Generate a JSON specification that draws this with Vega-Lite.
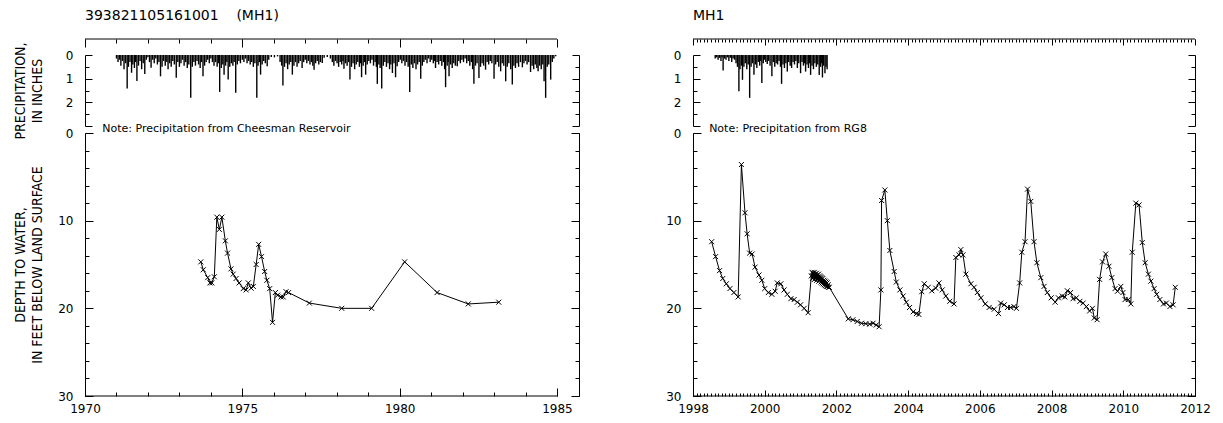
{
"$schema": "https://vega.github.io/schema/vega-lite/v6.json",
"background": "white",
"padding": {"left": 12, "top": 8, "right": 5, "bottom": 4},
"config": {
  "view": {"stroke": null},
  "axis": {"grid": false, "domainColor": "black", "tickColor": "black", "labelColor": "black", "titleColor": "black", "labelFont": "DejaVu Sans", "labelFontSize": 12, "titleFont": "Liberation Sans Narrow, DejaVu Sans Condensed, Liberation Sans", "titleFontSize": 14, "titleFontWeight": "normal", "domainWidth": 1, "tickWidth": 1, "labelFlush": false},
  "title": {"font": "DejaVu Sans", "fontSize": 14, "fontWeight": "normal", "color": "black", "anchor": "start", "frame": "group", "offset": 16}
},
"datasets": {
  "precipL": [
{"t":1971.00,"p":0.15},{"t":1971.05,"p":0.3},{"t":1971.10,"p":0.2},{"t":1971.14,"p":0.45},{"t":1971.19,"p":0.25},{"t":1971.24,"p":0.6},{"t":1971.29,"p":0.35},{"t":1971.34,"p":1.42},{"t":1971.38,"p":0.5},{"t":1971.43,"p":0.3},{"t":1971.48,"p":0.75},{"t":1971.52,"p":0.4},{"t":1971.57,"p":0.55},{"t":1971.61,"p":0.3},{"t":1971.65,"p":1.1},{"t":1971.70,"p":0.45},{"t":1971.75,"p":0.25},{"t":1971.80,"p":0.6},{"t":1971.85,"p":0.35},{"t":1971.90,"p":0.8},{"t":1971.95,"p":0.2},{"t":1972.00,"p":0.1},{"t":1972.05,"p":0.3},{"t":1972.10,"p":0.54},{"t":1972.15,"p":0.2},{"t":1972.20,"p":0.35},{"t":1972.25,"p":0.15},{"t":1972.30,"p":0.4},{"t":1972.35,"p":0.3},{"t":1972.40,"p":0.9},{"t":1972.45,"p":0.5},{"t":1972.50,"p":0.25},{"t":1972.55,"p":0.45},{"t":1972.60,"p":0.3},{"t":1972.64,"p":0.6},{"t":1972.69,"p":0.35},{"t":1972.74,"p":0.5},{"t":1972.79,"p":0.25},{"t":1972.84,"p":0.4},{"t":1972.90,"p":0.96},{"t":1972.95,"p":0.3},{"t":1973.00,"p":0.5},{"t":1973.05,"p":0.35},{"t":1973.10,"p":0.2},{"t":1973.15,"p":0.45},{"t":1973.20,"p":0.3},{"t":1973.25,"p":0.55},{"t":1973.30,"p":0.4},{"t":1973.36,"p":1.81},{"t":1973.41,"p":0.5},{"t":1973.46,"p":0.3},{"t":1973.51,"p":0.45},{"t":1973.56,"p":0.25},{"t":1973.61,"p":0.4},{"t":1973.66,"p":0.55},{"t":1973.70,"p":0.3},{"t":1973.75,"p":0.9},{"t":1973.80,"p":0.45},{"t":1973.85,"p":0.3},{"t":1973.90,"p":0.2},{"t":1973.95,"p":0.35},{"t":1974.00,"p":0.15},{"t":1974.05,"p":0.3},{"t":1974.10,"p":0.45},{"t":1974.15,"p":0.3},{"t":1974.20,"p":0.5},{"t":1974.24,"p":0.35},{"t":1974.28,"p":1.56},{"t":1974.33,"p":0.55},{"t":1974.38,"p":0.4},{"t":1974.42,"p":0.83},{"t":1974.47,"p":0.45},{"t":1974.51,"p":0.3},{"t":1974.55,"p":1.04},{"t":1974.60,"p":0.5},{"t":1974.65,"p":0.35},{"t":1974.70,"p":0.45},{"t":1974.74,"p":0.3},{"t":1974.79,"p":1.6},{"t":1974.84,"p":0.4},{"t":1974.89,"p":0.25},{"t":1974.94,"p":0.35},{"t":1975.00,"p":0.2},{"t":1975.05,"p":0.3},{"t":1975.10,"p":0.15},{"t":1975.15,"p":0.35},{"t":1975.20,"p":0.25},{"t":1975.25,"p":0.4},{"t":1975.30,"p":0.3},{"t":1975.35,"p":0.5},{"t":1975.40,"p":0.35},{"t":1975.46,"p":1.81},{"t":1975.50,"p":0.45},{"t":1975.54,"p":0.3},{"t":1975.58,"p":0.83},{"t":1975.63,"p":0.4},{"t":1975.68,"p":0.25},{"t":1975.73,"p":0.35},{"t":1975.79,"p":0.48},{"t":1975.84,"p":0.2},{"t":1975.92,"p":0.08},{"t":1976.02,"p":0.1},{"t":1976.12,"p":0.06},{"t":1976.20,"p":0.3},{"t":1976.25,"p":0.45},{"t":1976.29,"p":1.29},{"t":1976.34,"p":0.5},{"t":1976.39,"p":0.35},{"t":1976.44,"p":0.6},{"t":1976.49,"p":0.4},{"t":1976.54,"p":0.3},{"t":1976.59,"p":0.83},{"t":1976.64,"p":0.45},{"t":1976.69,"p":0.3},{"t":1976.74,"p":0.5},{"t":1976.79,"p":0.35},{"t":1976.84,"p":0.25},{"t":1976.90,"p":0.55},{"t":1976.95,"p":0.3},{"t":1977.00,"p":0.2},{"t":1977.05,"p":0.35},{"t":1977.10,"p":0.25},{"t":1977.15,"p":0.4},{"t":1977.20,"p":0.3},{"t":1977.24,"p":0.45},{"t":1977.28,"p":0.62},{"t":1977.33,"p":0.35},{"t":1977.38,"p":0.25},{"t":1977.43,"p":0.4},{"t":1977.48,"p":0.3},{"t":1977.54,"p":0.34},{"t":1977.60,"p":0.12},{"t":1977.70,"p":0.08},{"t":1977.80,"p":0.15},{"t":1977.86,"p":0.3},{"t":1977.91,"p":0.45},{"t":1977.96,"p":0.25},{"t":1978.01,"p":0.35},{"t":1978.06,"p":0.5},{"t":1978.11,"p":0.3},{"t":1978.16,"p":0.4},{"t":1978.20,"p":0.25},{"t":1978.23,"p":0.58},{"t":1978.28,"p":0.35},{"t":1978.33,"p":0.45},{"t":1978.38,"p":0.3},{"t":1978.42,"p":1.04},{"t":1978.47,"p":0.5},{"t":1978.52,"p":0.35},{"t":1978.57,"p":0.6},{"t":1978.62,"p":0.4},{"t":1978.67,"p":0.3},{"t":1978.72,"p":0.5},{"t":1978.76,"p":0.35},{"t":1978.79,"p":0.94},{"t":1978.84,"p":0.45},{"t":1978.88,"p":0.3},{"t":1978.92,"p":0.83},{"t":1978.97,"p":0.4},{"t":1979.02,"p":0.25},{"t":1979.07,"p":0.35},{"t":1979.12,"p":0.2},{"t":1979.17,"p":0.45},{"t":1979.22,"p":0.3},{"t":1979.26,"p":0.5},{"t":1979.29,"p":1.22},{"t":1979.34,"p":0.4},{"t":1979.38,"p":0.55},{"t":1979.43,"p":1.42},{"t":1979.48,"p":0.45},{"t":1979.53,"p":0.3},{"t":1979.58,"p":0.5},{"t":1979.63,"p":0.35},{"t":1979.68,"p":0.6},{"t":1979.72,"p":0.4},{"t":1979.77,"p":0.76},{"t":1979.82,"p":0.35},{"t":1979.87,"p":0.94},{"t":1979.92,"p":0.48},{"t":1979.97,"p":0.3},{"t":1980.02,"p":0.2},{"t":1980.07,"p":0.35},{"t":1980.12,"p":0.25},{"t":1980.17,"p":0.45},{"t":1980.22,"p":0.3},{"t":1980.27,"p":0.5},{"t":1980.32,"p":1.56},{"t":1980.37,"p":0.4},{"t":1980.42,"p":0.55},{"t":1980.47,"p":0.35},{"t":1980.52,"p":0.6},{"t":1980.57,"p":0.4},{"t":1980.62,"p":0.3},{"t":1980.67,"p":1.0},{"t":1980.72,"p":0.45},{"t":1980.77,"p":0.3},{"t":1980.82,"p":0.2},{"t":1980.87,"p":0.35},{"t":1980.92,"p":0.15},{"t":1980.97,"p":0.3},{"t":1981.02,"p":0.2},{"t":1981.07,"p":0.35},{"t":1981.10,"p":0.25},{"t":1981.14,"p":0.55},{"t":1981.19,"p":0.3},{"t":1981.24,"p":0.4},{"t":1981.29,"p":0.25},{"t":1981.34,"p":0.45},{"t":1981.39,"p":0.3},{"t":1981.43,"p":0.6},{"t":1981.46,"p":1.36},{"t":1981.51,"p":0.45},{"t":1981.54,"p":0.3},{"t":1981.57,"p":0.9},{"t":1981.62,"p":0.4},{"t":1981.67,"p":0.55},{"t":1981.72,"p":0.35},{"t":1981.77,"p":0.45},{"t":1981.83,"p":0.48},{"t":1981.88,"p":0.25},{"t":1981.93,"p":0.35},{"t":1981.98,"p":0.2},{"t":1982.03,"p":0.3},{"t":1982.08,"p":0.15},{"t":1982.13,"p":0.35},{"t":1982.18,"p":0.25},{"t":1982.23,"p":0.45},{"t":1982.28,"p":0.3},{"t":1982.32,"p":0.6},{"t":1982.36,"p":1.22},{"t":1982.41,"p":0.45},{"t":1982.46,"p":0.35},{"t":1982.52,"p":0.97},{"t":1982.57,"p":0.5},{"t":1982.62,"p":0.35},{"t":1982.67,"p":0.45},{"t":1982.73,"p":0.62},{"t":1982.78,"p":0.3},{"t":1982.83,"p":0.4},{"t":1982.88,"p":0.25},{"t":1982.93,"p":0.35},{"t":1983.00,"p":1.0},{"t":1983.05,"p":0.4},{"t":1983.10,"p":0.3},{"t":1983.15,"p":0.5},{"t":1983.21,"p":0.69},{"t":1983.26,"p":0.35},{"t":1983.31,"p":0.45},{"t":1983.37,"p":1.11},{"t":1983.42,"p":0.5},{"t":1983.47,"p":0.35},{"t":1983.53,"p":0.6},{"t":1983.58,"p":1.25},{"t":1983.63,"p":0.45},{"t":1983.68,"p":0.55},{"t":1983.73,"p":0.35},{"t":1983.78,"p":0.5},{"t":1983.84,"p":0.3},{"t":1983.90,"p":0.52},{"t":1983.95,"p":0.35},{"t":1984.00,"p":0.25},{"t":1984.05,"p":0.4},{"t":1984.10,"p":0.3},{"t":1984.16,"p":0.72},{"t":1984.21,"p":0.45},{"t":1984.26,"p":0.6},{"t":1984.31,"p":0.4},{"t":1984.36,"p":0.55},{"t":1984.40,"p":0.69},{"t":1984.45,"p":0.45},{"t":1984.50,"p":0.6},{"t":1984.55,"p":0.4},{"t":1984.59,"p":1.11},{"t":1984.64,"p":1.81},{"t":1984.69,"p":0.5},{"t":1984.74,"p":0.4},{"t":1984.80,"p":1.04},{"t":1984.85,"p":0.3},{"t":1984.90,"p":0.15},{"t":1984.96,"p":0.05}
  ],
  "precipR": [
{"t":1998.62,"p":0.15},{"t":1998.66,"p":0.1},{"t":1998.70,"p":0.2},{"t":1998.74,"p":0.12},{"t":1998.78,"p":0.25},{"t":1998.81,"p":0.1},{"t":1998.84,"p":0.66},{"t":1998.88,"p":0.15},{"t":1998.92,"p":0.2},{"t":1998.96,"p":0.1},{"t":1999.00,"p":0.25},{"t":1999.04,"p":0.12},{"t":1999.08,"p":0.3},{"t":1999.12,"p":0.15},{"t":1999.16,"p":0.2},{"t":1999.20,"p":0.35},{"t":1999.24,"p":0.5},{"t":1999.28,"p":1.53},{"t":1999.31,"p":0.6},{"t":1999.35,"p":0.45},{"t":1999.38,"p":1.05},{"t":1999.42,"p":0.5},{"t":1999.46,"p":0.35},{"t":1999.50,"p":0.6},{"t":1999.54,"p":0.4},{"t":1999.58,"p":1.81},{"t":1999.62,"p":0.5},{"t":1999.66,"p":0.35},{"t":1999.70,"p":0.83},{"t":1999.74,"p":0.4},{"t":1999.78,"p":0.55},{"t":1999.82,"p":0.3},{"t":1999.86,"p":0.45},{"t":1999.89,"p":0.25},{"t":1999.92,"p":1.18},{"t":1999.96,"p":0.35},{"t":2000.00,"p":0.2},{"t":2000.03,"p":0.3},{"t":2000.07,"p":0.38},{"t":2000.11,"p":0.25},{"t":2000.15,"p":0.45},{"t":2000.20,"p":0.9},{"t":2000.24,"p":0.3},{"t":2000.28,"p":0.5},{"t":2000.32,"p":0.35},{"t":2000.36,"p":0.4},{"t":2000.40,"p":0.25},{"t":2000.44,"p":0.5},{"t":2000.47,"p":1.22},{"t":2000.51,"p":0.4},{"t":2000.55,"p":0.55},{"t":2000.59,"p":0.35},{"t":2000.63,"p":0.7},{"t":2000.67,"p":0.3},{"t":2000.71,"p":0.45},{"t":2000.75,"p":0.55},{"t":2000.79,"p":0.3},{"t":2000.83,"p":0.4},{"t":2000.87,"p":0.25},{"t":2000.91,"p":0.55},{"t":2000.95,"p":0.35},{"t":2001.00,"p":0.77},{"t":2001.04,"p":0.3},{"t":2001.08,"p":0.45},{"t":2001.11,"p":0.35},{"t":2001.14,"p":0.7},{"t":2001.18,"p":0.4},{"t":2001.22,"p":0.55},{"t":2001.25,"p":0.35},{"t":2001.28,"p":0.84},{"t":2001.32,"p":0.45},{"t":2001.36,"p":0.6},{"t":2001.40,"p":0.35},{"t":2001.44,"p":0.5},{"t":2001.48,"p":0.4},{"t":2001.52,"p":0.84},{"t":2001.56,"p":0.5},{"t":2001.59,"p":0.35},{"t":2001.61,"p":0.95},{"t":2001.64,"p":0.45},{"t":2001.68,"p":0.77},{"t":2001.71,"p":0.5},{"t":2001.74,"p":0.6}
  ],
  "depthL": [
{"t":1973.68,"d":14.7},{"t":1973.76,"d":15.6},{"t":1973.9,"d":16.5},{"t":1973.97,"d":17.1},{"t":1974.03,"d":17.1},{"t":1974.11,"d":16.4},{"t":1974.19,"d":9.6},{"t":1974.27,"d":11.0},{"t":1974.35,"d":9.6},{"t":1974.46,"d":12.3},{"t":1974.53,"d":13.7},{"t":1974.64,"d":15.5},{"t":1974.71,"d":16.1},{"t":1974.8,"d":16.6},{"t":1974.9,"d":17.1},{"t":1975.03,"d":17.75},{"t":1975.12,"d":17.9},{"t":1975.19,"d":17.1},{"t":1975.28,"d":17.7},{"t":1975.35,"d":17.5},{"t":1975.44,"d":15.0},{"t":1975.52,"d":12.7},{"t":1975.61,"d":14.1},{"t":1975.71,"d":15.8},{"t":1975.78,"d":16.8},{"t":1975.87,"d":17.75},{"t":1975.96,"d":21.6},{"t":1976.05,"d":18.2},{"t":1976.12,"d":18.5},{"t":1976.23,"d":18.7},{"t":1976.3,"d":18.7},{"t":1976.39,"d":18.1},{"t":1976.47,"d":18.2},{"t":1977.13,"d":19.4},{"t":1978.16,"d":20.0},{"t":1979.11,"d":20.0},{"t":1980.16,"d":14.7},{"t":1981.19,"d":18.2},{"t":1982.18,"d":19.5},{"t":1983.15,"d":19.3}
  ],
  "depthR": [
{"t":1998.52,"d":12.4},{"t":1998.63,"d":14.1},{"t":1998.74,"d":15.7},{"t":1998.83,"d":16.6},{"t":1998.93,"d":17.2},{"t":1999.03,"d":17.75},{"t":1999.14,"d":18.2},{"t":1999.26,"d":18.7},{"t":1999.35,"d":3.6},{"t":1999.45,"d":9.1},{"t":1999.51,"d":11.5},{"t":1999.58,"d":13.7},{"t":1999.65,"d":13.8},{"t":1999.73,"d":15.3},{"t":1999.84,"d":16.2},{"t":1999.92,"d":16.8},{"t":2000.0,"d":17.75},{"t":2000.1,"d":18.2},{"t":2000.2,"d":18.4},{"t":2000.29,"d":18.05},{"t":2000.35,"d":17.1},{"t":2000.45,"d":17.2},{"t":2000.54,"d":17.9},{"t":2000.63,"d":18.4},{"t":2000.73,"d":18.9},{"t":2000.82,"d":19.0},{"t":2000.91,"d":19.3},{"t":2001.0,"d":19.6},{"t":2001.1,"d":20.0},{"t":2001.21,"d":20.5},
{"t":2001.30,"d":16.3},{"t":2001.32,"d":15.9},{"t":2001.33,"d":16.6},{"t":2001.35,"d":16.0},{"t":2001.36,"d":16.4},{"t":2001.38,"d":15.9},{"t":2001.39,"d":16.7},{"t":2001.41,"d":16.1},{"t":2001.42,"d":16.5},{"t":2001.44,"d":16.0},{"t":2001.45,"d":16.8},{"t":2001.47,"d":16.2},{"t":2001.48,"d":16.6},{"t":2001.50,"d":16.1},{"t":2001.51,"d":16.9},{"t":2001.53,"d":16.3},{"t":2001.54,"d":16.7},{"t":2001.56,"d":16.4},{"t":2001.57,"d":17.0},{"t":2001.59,"d":16.5},{"t":2001.60,"d":17.1},{"t":2001.62,"d":16.6},{"t":2001.63,"d":17.2},{"t":2001.65,"d":16.8},{"t":2001.66,"d":17.3},{"t":2001.68,"d":16.9},{"t":2001.69,"d":17.4},{"t":2001.71,"d":17.0},{"t":2001.72,"d":17.5},{"t":2001.74,"d":17.1},{"t":2001.75,"d":17.5},{"t":2001.77,"d":17.3},{"t":2001.78,"d":17.6},{"t":2001.80,"d":17.6},
{"t":2002.33,"d":21.2},{"t":2002.46,"d":21.3},{"t":2002.58,"d":21.5},{"t":2002.7,"d":21.7},{"t":2002.82,"d":21.75},{"t":2002.93,"d":21.8},{"t":2003.02,"d":21.7},{"t":2003.11,"d":21.9},{"t":2003.19,"d":22.1},{"t":2003.24,"d":17.9},{"t":2003.26,"d":7.7},{"t":2003.35,"d":6.5},{"t":2003.42,"d":10.0},{"t":2003.49,"d":13.4},{"t":2003.61,"d":15.8},{"t":2003.67,"d":17.0},{"t":2003.77,"d":17.9},{"t":2003.86,"d":18.6},{"t":2003.95,"d":19.3},{"t":2004.04,"d":19.9},{"t":2004.14,"d":20.4},{"t":2004.23,"d":20.6},{"t":2004.3,"d":20.7},{"t":2004.38,"d":18.1},{"t":2004.45,"d":17.2},{"t":2004.56,"d":17.6},{"t":2004.66,"d":18.0},{"t":2004.77,"d":17.7},{"t":2004.86,"d":17.1},{"t":2004.95,"d":17.9},{"t":2005.05,"d":18.6},{"t":2005.16,"d":19.2},{"t":2005.28,"d":19.5},{"t":2005.33,"d":14.2},{"t":2005.42,"d":13.9},{"t":2005.47,"d":13.3},{"t":2005.53,"d":13.9},{"t":2005.61,"d":16.1},{"t":2005.75,"d":17.2},{"t":2005.84,"d":17.6},{"t":2005.93,"d":18.2},{"t":2006.03,"d":18.8},{"t":2006.15,"d":19.5},{"t":2006.26,"d":19.9},{"t":2006.4,"d":20.1},{"t":2006.52,"d":20.6},{"t":2006.58,"d":19.4},{"t":2006.68,"d":19.6},{"t":2006.77,"d":19.9},{"t":2006.86,"d":19.9},{"t":2006.95,"d":19.8},{"t":2007.02,"d":20.0},{"t":2007.11,"d":17.1},{"t":2007.17,"d":13.6},{"t":2007.26,"d":12.4},{"t":2007.33,"d":6.4},{"t":2007.42,"d":7.8},{"t":2007.51,"d":12.4},{"t":2007.59,"d":14.8},{"t":2007.7,"d":16.5},{"t":2007.79,"d":17.5},{"t":2007.88,"d":18.2},{"t":2007.99,"d":18.8},{"t":2008.1,"d":19.3},{"t":2008.19,"d":18.8},{"t":2008.3,"d":18.6},{"t":2008.37,"d":18.7},{"t":2008.44,"d":18.0},{"t":2008.53,"d":18.2},{"t":2008.6,"d":18.9},{"t":2008.69,"d":18.8},{"t":2008.79,"d":19.2},{"t":2008.88,"d":19.4},{"t":2008.97,"d":19.8},{"t":2009.06,"d":20.3},{"t":2009.14,"d":20.0},{"t":2009.19,"d":21.1},{"t":2009.27,"d":21.3},{"t":2009.34,"d":16.7},{"t":2009.42,"d":14.7},{"t":2009.51,"d":13.8},{"t":2009.6,"d":15.2},{"t":2009.68,"d":16.5},{"t":2009.77,"d":17.75},{"t":2009.84,"d":18.05},{"t":2009.93,"d":17.5},{"t":2009.99,"d":18.2},{"t":2010.05,"d":19.0},{"t":2010.14,"d":19.0},{"t":2010.21,"d":19.5},{"t":2010.25,"d":13.6},{"t":2010.35,"d":8.0},{"t":2010.44,"d":8.2},{"t":2010.53,"d":12.5},{"t":2010.61,"d":14.8},{"t":2010.7,"d":16.1},{"t":2010.77,"d":16.9},{"t":2010.86,"d":17.75},{"t":2010.93,"d":18.4},{"t":2011.02,"d":19.0},{"t":2011.12,"d":19.5},{"t":2011.2,"d":19.4},{"t":2011.3,"d":19.8},{"t":2011.39,"d":19.6},{"t":2011.45,"d":17.6}
  ]
},
"bounds": "flush",
"columns": 2,
"spacing": {"row": 7, "column": 114},
"concat": [
   {
    "width": 494, "height": 71,
    "title": {"text": "393821105161001\u00a0\u00a0\u00a0\u00a0(MH1)"},
    "resolve": {"axis": {"x": "independent", "y": "independent"}},
    "layer": [
     {"data": {"name": "precipL"}, "mark": {"type": "rule", "color": "black", "strokeWidth": 1.4},
      "encoding": {
       "x": {"field": "t", "type": "quantitative", "scale": {"domain": [1970, 1985.7], "nice": false, "zero": false}, "axis": {"orient": "top", "offset": 16, "values": [1970,1971,1972,1973,1974,1975,1976,1977,1978,1979,1980,1981,1982,1983,1984,1985], "tickSize": -4, "labels": false, "domain": false, "title": null}},
       "y": {"field": "p", "type": "quantitative", "scale": {"domain": [0, 3], "reverse": true, "nice": false, "zero": false}, "axis": {"orient": "left", "values": [0, 1, 2, 3], "tickSize": -7, "labelExpr": "datum.value < 3 ? datum.label : ''", "labelPadding": 19, "domain": true, "title": ["PRECIPITATION,", "IN INCHES"], "titleX": -58, "titleLineHeight": 17}},
       "y2": {"datum": 0}
      }},
     {"data": {"values": [{"t": 1970, "p": 0}]}, "mark": {"type": "point", "opacity": 0},
      "encoding": {
       "x": {"field": "t", "type": "quantitative", "scale": {"domain": [1970, 1985.7], "nice": false, "zero": false}, "axis": {"orient": "top", "offset": 16, "values": [1970, 1975, 1980, 1985], "tickSize": -8, "labels": false, "domain": false, "title": null}},
       "y": {"field": "p", "type": "quantitative", "axis": {"orient": "left", "values": [0.5, 1.5, 2.5], "tickSize": -4, "labels": false, "domain": false, "title": null}}
      }},
     {"data": {"values": [{"t": 1970, "t2": 1985, "p": -0.676}]}, "mark": {"type": "rule", "color": "black", "strokeWidth": 1},
      "encoding": {
       "x": {"field": "t", "type": "quantitative", "axis": null},
       "x2": {"field": "t2"},
       "y": {"field": "p", "type": "quantitative", "axis": {"orient": "right", "values": [0, 1, 2, 3], "tickSize": -7, "labels": false, "domain": true, "title": null}}
      }},
     {"data": {"values": [{"t": 1970, "p": 0}]}, "mark": {"type": "point", "opacity": 0},
      "encoding": {
       "x": {"field": "t", "type": "quantitative", "axis": null},
       "y": {"field": "p", "type": "quantitative", "axis": {"orient": "right", "values": [0.5, 1.5, 2.5], "tickSize": -4, "labels": false, "domain": false, "title": null}}
      }}
    ]
   },
   {
    "width": 502, "height": 71,
    "title": {"text": "MH1"},
    "resolve": {"axis": {"x": "independent", "y": "independent"}},
    "layer": [
     {"data": {"name": "precipR"}, "mark": {"type": "rule", "color": "black", "strokeWidth": 1.4},
      "encoding": {
       "x": {"field": "t", "type": "quantitative", "scale": {"domain": [1998, 2012], "nice": false, "zero": false}, "axis": {"orient": "top", "offset": 16, "tickCount": 140, "tickSize": -3, "labels": false, "domain": false, "title": null}},
       "y": {"field": "p", "type": "quantitative", "scale": {"domain": [0, 3], "reverse": true, "nice": false, "zero": false}, "axis": {"orient": "left", "values": [0, 1, 2, 3], "tickSize": -7, "labelExpr": "datum.value < 3 ? datum.label : ''", "labelPadding": 19, "domain": true, "title": null}},
       "y2": {"datum": 0}
      }},
     {"data": {"values": [{"t": 1998, "p": 0}]}, "mark": {"type": "point", "opacity": 0},
      "encoding": {
       "x": {"field": "t", "type": "quantitative", "scale": {"domain": [1998, 2012], "nice": false, "zero": false}, "axis": {"orient": "top", "offset": 16, "values": [1998, 2000, 2002, 2004, 2006, 2008, 2010, 2012], "tickSize": -6, "labels": false, "domain": false, "title": null}},
       "y": {"field": "p", "type": "quantitative", "axis": {"orient": "left", "values": [0.5, 1.5, 2.5], "tickSize": -4, "labels": false, "domain": false, "title": null}}
      }},
     {"data": {"values": [{"t": 1998, "t2": 2012, "p": -0.676}]}, "mark": {"type": "rule", "color": "black", "strokeWidth": 1},
      "encoding": {
       "x": {"field": "t", "type": "quantitative", "axis": null},
       "x2": {"field": "t2"},
       "y": {"field": "p", "type": "quantitative", "axis": {"orient": "right", "values": [0, 1, 2, 3], "tickSize": -7, "labels": false, "domain": true, "title": null}}
      }},
     {"data": {"values": [{"t": 1998, "p": 0}]}, "mark": {"type": "point", "opacity": 0},
      "encoding": {
       "x": {"field": "t", "type": "quantitative", "axis": null},
       "y": {"field": "p", "type": "quantitative", "axis": {"orient": "right", "values": [0.5, 1.5, 2.5], "tickSize": -4, "labels": false, "domain": false, "title": null}}
      }}
    ]
   },
   {
    "width": 494, "height": 263,
    "resolve": {"axis": {"x": "independent", "y": "independent"}},
    "layer": [
     {"data": {"name": "depthL"}, "mark": {"type": "line", "color": "black", "strokeWidth": 1},
      "encoding": {
       "x": {"field": "t", "type": "quantitative", "scale": {"domain": [1970, 1985.7], "nice": false, "zero": false}, "axis": {"orient": "bottom", "values": [1970, 1975, 1980, 1985], "format": "d", "tickSize": -8, "labelPadding": 15, "domain": false, "title": null}},
       "y": {"field": "d", "type": "quantitative", "scale": {"domain": [0, 30], "reverse": true, "nice": false, "zero": false}, "axis": {"orient": "left", "values": [0, 10, 20, 30], "tickSize": -8, "labelPadding": 20, "domain": true, "title": ["DEPTH TO WATER,", "IN FEET BELOW LAND SURFACE"], "titleX": -58, "titleLineHeight": 17}}
      }},
     {"data": {"name": "depthL"}, "mark": {"type": "point", "shape": "M-1,-1L1,1M-1,1L1,-1", "filled": false, "stroke": "black", "strokeWidth": 1, "size": 25, "opacity": 1},
      "encoding": {
       "x": {"field": "t", "type": "quantitative", "axis": {"orient": "bottom", "values": [1970,1971,1972,1973,1974,1975,1976,1977,1978,1979,1980,1981,1982,1983,1984,1985], "tickSize": -4, "labels": false, "domain": false, "title": null}},
       "y": {"field": "d", "type": "quantitative", "axis": {"orient": "left", "values": [0,2,4,6,8,10,12,14,16,18,20,22,24,26,28,30], "tickSize": -4, "labels": false, "domain": false, "title": null}}
      }},
     {"data": {"values": [{"t": 1970.55, "d": 0, "label": "Note:  Precipitation  from  Cheesman  Reservoir"}]}, "mark": {"type": "text", "align": "left", "baseline": "middle", "dy": -4, "fontSize": 11, "font": "DejaVu Sans", "color": "black"},
      "encoding": {
       "x": {"field": "t", "type": "quantitative", "axis": null},
       "y": {"field": "d", "type": "quantitative", "axis": {"orient": "right", "values": [0, 10, 20, 30], "tickSize": -8, "labels": false, "domain": true, "title": null}},
       "text": {"field": "label"}
      }},
     {"data": {"values": [{"t": 1970, "t2": 1985, "d": 30}]}, "mark": {"type": "rule", "color": "black", "strokeWidth": 1},
      "encoding": {
       "x": {"field": "t", "type": "quantitative", "axis": null},
       "x2": {"field": "t2"},
       "y": {"field": "d", "type": "quantitative", "axis": {"orient": "right", "values": [0,2,4,6,8,10,12,14,16,18,20,22,24,26,28,30], "tickSize": -4, "labels": false, "domain": false, "title": null}}
      }}
    ]
   },
   {
    "width": 502, "height": 263,
    "resolve": {"axis": {"x": "independent", "y": "independent"}},
    "layer": [
     {"data": {"name": "depthR"}, "mark": {"type": "line", "color": "black", "strokeWidth": 1},
      "encoding": {
       "x": {"field": "t", "type": "quantitative", "scale": {"domain": [1998, 2012], "nice": false, "zero": false}, "axis": {"orient": "bottom", "values": [1998, 2000, 2002, 2004, 2006, 2008, 2010, 2012], "format": "d", "tickSize": -6, "labelPadding": 13, "domain": false, "title": null}},
       "y": {"field": "d", "type": "quantitative", "scale": {"domain": [0, 30], "reverse": true, "nice": false, "zero": false}, "axis": {"orient": "left", "values": [0, 10, 20, 30], "tickSize": -8, "labelPadding": 20, "domain": true, "title": null}}
      }},
     {"data": {"name": "depthR"}, "mark": {"type": "point", "shape": "M-1,-1L1,1M-1,1L1,-1", "filled": false, "stroke": "black", "strokeWidth": 1, "size": 25, "opacity": 1},
      "encoding": {
       "x": {"field": "t", "type": "quantitative", "axis": {"orient": "bottom", "tickCount": 140, "tickSize": -3, "labels": false, "domain": false, "title": null}},
       "y": {"field": "d", "type": "quantitative", "axis": {"orient": "left", "values": [0,2,4,6,8,10,12,14,16,18,20,22,24,26,28,30], "tickSize": -4, "labels": false, "domain": false, "title": null}}
      }},
     {"data": {"values": [{"t": 1998.45, "d": 0, "label": "Note:  Precipitation  from  RG8"}]}, "mark": {"type": "text", "align": "left", "baseline": "middle", "dy": -4, "fontSize": 11, "font": "DejaVu Sans", "color": "black"},
      "encoding": {
       "x": {"field": "t", "type": "quantitative", "axis": null},
       "y": {"field": "d", "type": "quantitative", "axis": {"orient": "right", "values": [0, 10, 20, 30], "tickSize": -8, "labels": false, "domain": true, "title": null}},
       "text": {"field": "label"}
      }},
     {"data": {"values": [{"t": 1998, "t2": 2012, "d": 30}]}, "mark": {"type": "rule", "color": "black", "strokeWidth": 1},
      "encoding": {
       "x": {"field": "t", "type": "quantitative", "axis": null},
       "x2": {"field": "t2"},
       "y": {"field": "d", "type": "quantitative", "axis": {"orient": "right", "values": [0,2,4,6,8,10,12,14,16,18,20,22,24,26,28,30], "tickSize": -4, "labels": false, "domain": false, "title": null}}
      }}
    ]
   }
]
}
